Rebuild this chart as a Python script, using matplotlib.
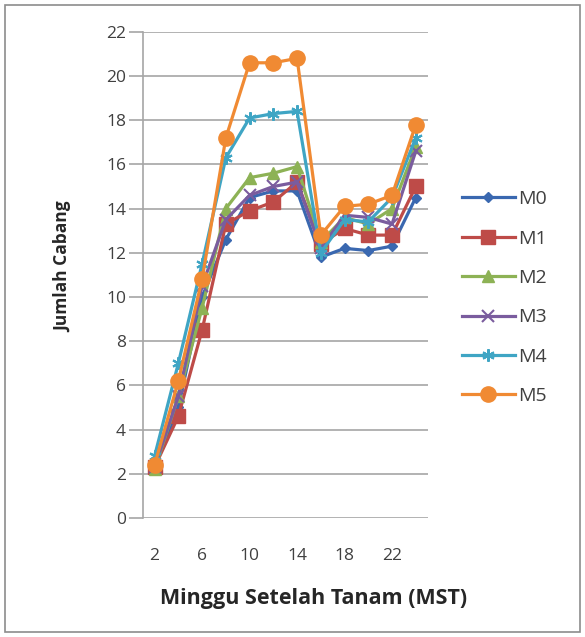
import matplotlib
matplotlib.use('Agg')
import matplotlib.pyplot as plt
from matplotlib.patches import Rectangle

#
# DATA
#
weeks = [2, 4, 6, 8, 10, 12, 14, 16, 18, 20, 22, 24]
m0 = [2.3, 5.0, 10.0, 12.6, 14.5, 14.8, 14.8, 11.8, 12.2, 12.1, 12.3, 14.5]
m1 = [2.3, 4.6, 8.5, 13.3, 13.9, 14.3, 15.2, 12.4, 13.1, 12.8, 12.8, 15.0]
m2 = [2.2, 5.5, 9.5, 14.0, 15.4, 15.6, 15.9, 12.5, 13.6, 13.3, 14.0, 16.8]
m3 = [2.3, 5.5, 10.5, 13.5, 14.6, 15.0, 15.2, 12.2, 13.7, 13.6, 13.3, 16.6]
m4 = [2.8, 7.0, 11.5, 16.3, 18.1, 18.3, 18.4, 12.0, 13.5, 13.4, 14.5, 17.2]
m5 = [2.4, 6.2, 10.8, 17.2, 20.6, 20.6, 20.8, 12.8, 14.1, 14.2, 14.6, 17.8]
series_names = ['M0', 'M1', 'M2', 'M3', 'M4', 'M5']
xtick_labels = ['2', '6', '10', '14', '18', '22']
yticks = [0, 2, 4, 6, 8, 10, 12, 14, 16, 18, 20, 22]

colors = ['#3A68B0', '#BE4B48', '#8DB255', '#7A5C9E', '#3FA5C4', '#F08A33']
markers = ['D', 's', '^', 'x', (6, 2, 0), 'o']
msizes = [5.5, 9.5, 8.5, 8, 9, 11]

plt.rcParams['font.family'] = ['Open Sans', 'DejaVu Sans']

fig = plt.figure(figsize=(5.85, 6.37), dpi=100)
fig.patches.append(Rectangle((0.008, 0.008), 0.984, 0.984, transform=fig.transFigure,
                             fill=False, edgecolor='#8c8c8c', linewidth=1.2))
ax = fig.add_axes([0.244, 0.187, 0.487, 0.763])

xs = list(range(len(weeks)))
series = [m0, m1, m2, m3, m4, m5]
for vals, name, c, mk, ms in zip(series, series_names, colors, markers, msizes):
    ax.plot(xs, vals, color=c, marker=mk, markersize=ms, linewidth=2.3,
            markeredgewidth=1.5 if mk == 'x' or isinstance(mk, tuple) else 1,
            markeredgecolor=c, label=name)

ax.set_xlim(-0.5, len(weeks) - 0.5)
ax.set_ylim(0, 22)
ax.set_yticks(yticks)
ax.set_xticks(xs[::2])
ax.set_xticklabels(xtick_labels)
ax.yaxis.grid(True, color='#a6a6a6', linewidth=1.2)
ax.set_axisbelow(True)
for s in ['top', 'right', 'bottom']:
    ax.spines[s].set_visible(False)
ax.spines['left'].set_color('#a6a6a6')
ax.spines['left'].set_linewidth(1.2)
ax.tick_params(axis='y', length=10, color='#a6a6a6', width=1.2, labelsize=12.5,
               labelcolor='#404040', pad=2)
ax.tick_params(axis='x', length=0, labelsize=12.5, labelcolor='#404040', pad=22)

ax.set_xlabel('Minggu Setelah Tanam (MST)', fontsize=15.5, fontweight='bold',
              color='#262626', va='center')
ax.xaxis.set_label_coords(0.6, -0.165)
ax.set_ylabel('Jumlah Cabang', fontsize=12.5, fontweight='bold', color='#262626',
              va='center')
ax.yaxis.set_label_coords(-0.28, 0.516)

leg = ax.legend(loc='center left', bbox_to_anchor=(1.06, 0.453), frameon=False,
                fontsize=14, handlelength=2.7, labelspacing=1.1, handletextpad=0.15)
for t in leg.get_texts():
    t.set_color('#404040')

fig.savefig('out.png', dpi=100)
